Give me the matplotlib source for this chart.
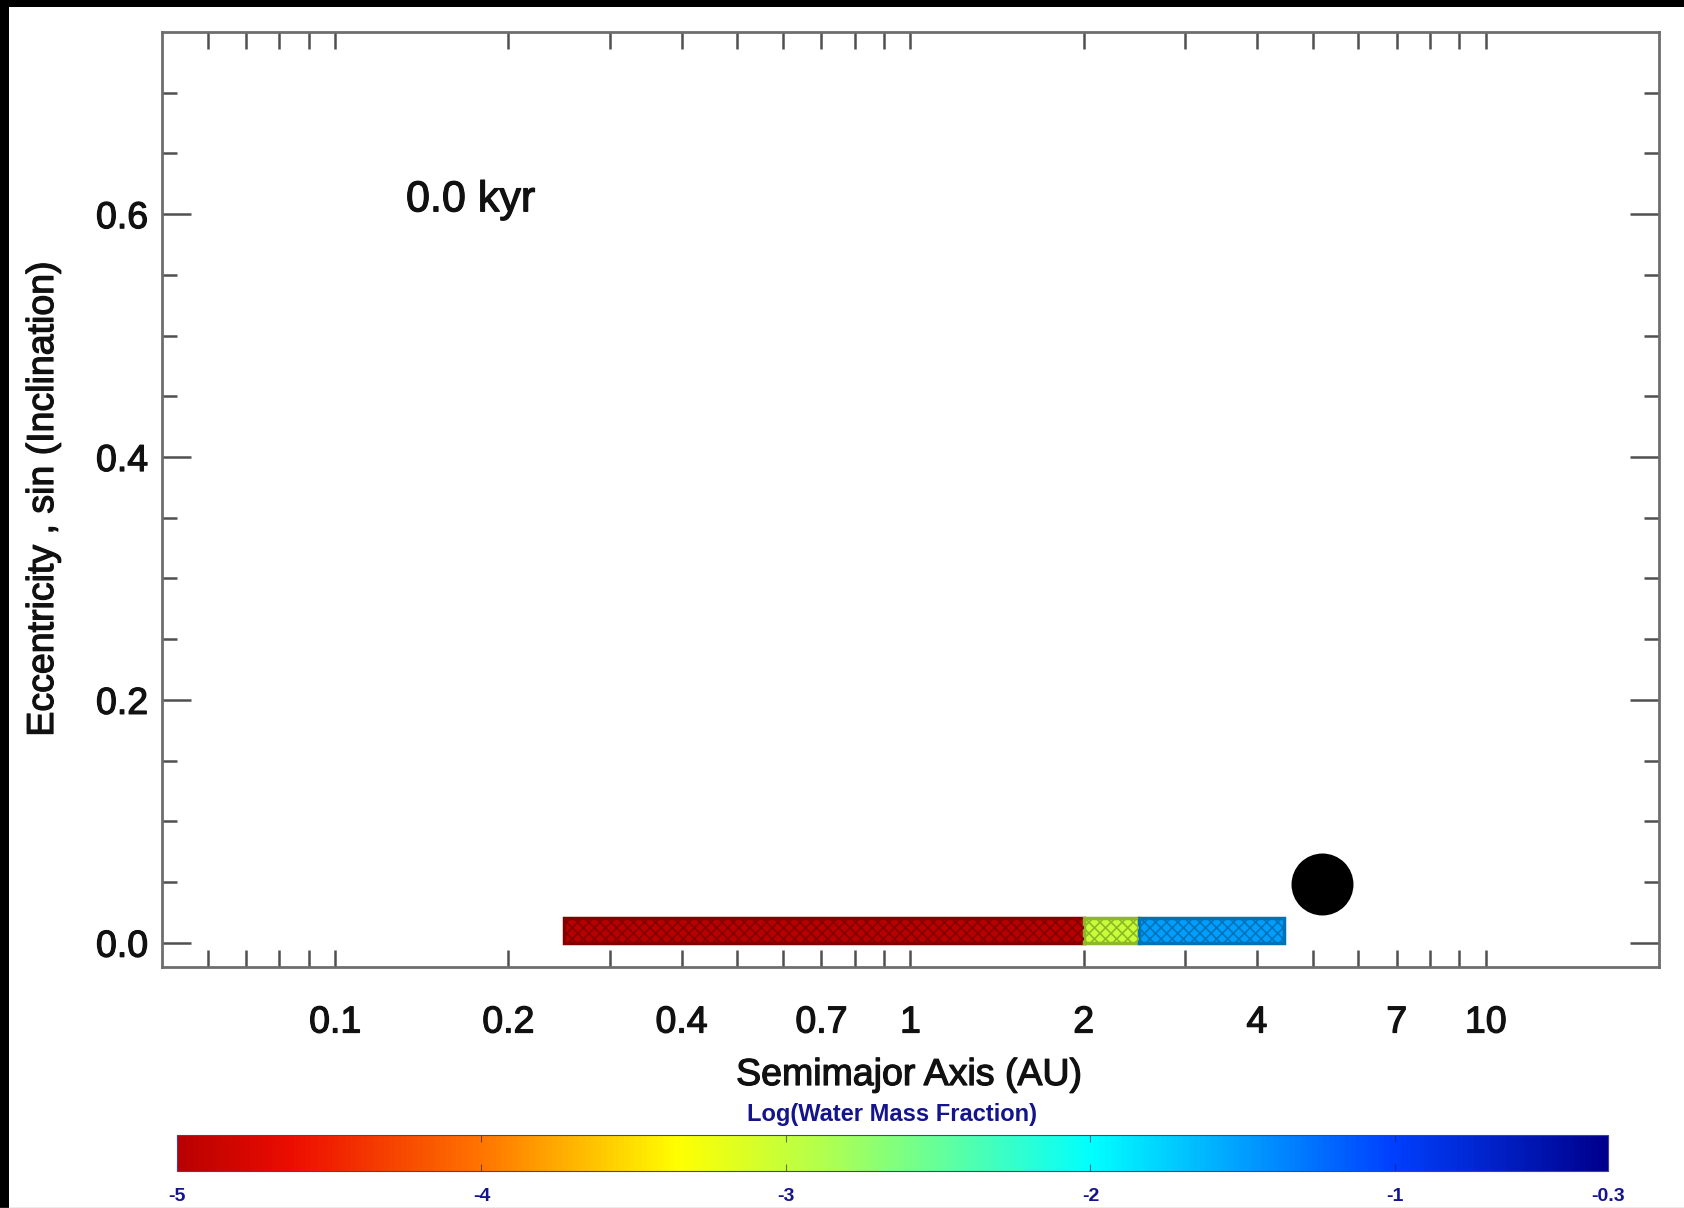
import matplotlib
matplotlib.use("Agg")
import matplotlib.pyplot as plt
import matplotlib.patheffects as pe
from matplotlib.patches import Rectangle
from matplotlib.lines import Line2D
from matplotlib.colors import Normalize, LinearSegmentedColormap
from matplotlib.cm import ScalarMappable
from matplotlib.ticker import FixedLocator, NullLocator

plt.rcParams['font.family'] = ['Liberation Sans', 'DejaVu Sans']
plt.rcParams['hatch.linewidth'] = 1.2

# ---------------- data ----------------
# planetesimal bands (semimajor axis range, eccentricity range, log water mass fraction)
band_a_inner = [0.25, 2.0, 2.5]
band_a_outer = [2.0, 2.5, 4.45]
band_e_min = [0.0, 0.0, 0.0]
band_e_max = [0.02, 0.02, 0.02]
band_logwater = [-5.0, -3.0, -1.5]

# Jupiter
jup_a = [5.2]
jup_e = [0.048]

time_label = "0.0 kyr"

x_tick_values = [0.06, 0.07, 0.08, 0.09, 0.1, 0.2, 0.3, 0.4, 0.5, 0.6, 0.7, 0.8, 0.9,
                 1, 2, 3, 4, 5, 6, 7, 8, 9, 10]
x_labeled = {0.1: "0.1", 0.2: "0.2", 0.4: "0.4", 0.7: "0.7", 1: "1", 2: "2",
             4: "4", 7: "7", 10: "10"}
y_major = [0.0, 0.2, 0.4, 0.6]
y_major_labels = ["0.0", "0.2", "0.4", "0.6"]
y_minor = [0.05, 0.1, 0.15, 0.25, 0.3, 0.35, 0.45, 0.5, 0.55, 0.65, 0.7]

cb_ticks = [-5, -4, -3, -2, -1, -0.3]
cb_tick_labels = ["-5", "-4", "-3", "-2", "-1", "-0.3"]
cb_range = (-5.0, -0.3)

# colour table (reversed rainbow as in the colour bar)
cmap_pos = [0.0, 0.08, 0.21, 0.35, 0.45, 0.64, 0.85, 1.0]
cmap_cols = [(0.72, 0.0, 0.0), (0.93, 0.05, 0.0), (1.0, 0.45, 0.0), (1.0, 1.0, 0.0),
             (0.7, 1.0, 0.3), (0.0, 1.0, 1.0), (0.0, 0.25, 1.0), (0.0, 0.0, 0.55)]

# ---------------- figure ----------------
W, H = 1684, 1208
fig = plt.figure(figsize=(W / 100, H / 100), dpi=100)
fig.patch.set_facecolor('white')

ax_l, ax_r, ax_t, ax_b = 162, 1659, 32, 967
ax = fig.add_axes([ax_l / W, 1 - ax_b / H, (ax_r - ax_l) / W, (ax_b - ax_t) / H])
ax.set_xscale('log')
ax.set_xlim(0.05, 20)
ax.set_ylim(-0.02, 0.75)

cmap = LinearSegmentedColormap.from_list('rainbow_r_idl', list(zip(cmap_pos, cmap_cols)))
norm = Normalize(*cb_range)

colors = [cmap(norm(v)) for v in band_logwater]
dark = [tuple(0.72 * c for c in col[:3]) for col in colors]
widths = [o - i for i, o in zip(band_a_inner, band_a_outer)]
heights = [t - b for b, t in zip(band_e_min, band_e_max)]
ax.bar(band_a_inner, heights, width=widths, bottom=band_e_min, align='edge',
       color=colors, edgecolor=dark, linewidth=2.5, zorder=3)
ax.bar(band_a_inner, heights, width=widths, bottom=band_e_min, align='edge',
       color='none', edgecolor=dark, linewidth=0, hatch='xxx', zorder=3.5)

ax.scatter(jup_a, jup_e, s=1990, c='black', zorder=4, linewidths=0)

# spines / ticks
spine_c = '#6e6e6e'
for s in ax.spines.values():
    s.set_color(spine_c)
    s.set_linewidth(2.0)

thick = [pe.withStroke(linewidth=0.9, foreground='#111111')]

ax.xaxis.set_major_locator(FixedLocator(x_tick_values))
ax.xaxis.set_minor_locator(NullLocator())
ax.set_xticklabels([x_labeled.get(v, "") for v in x_tick_values])
ax.tick_params(axis='x', which='major', direction='in', length=12, width=1.8,
               color='#505050', top=True, bottom=True, pad=27,
               labelsize=27, labelcolor='#111111')

ax.set_yticks(y_major)
ax.set_yticklabels(y_major_labels)
ax.set_yticks(y_minor, minor=True)
ax.tick_params(axis='y', which='major', direction='in', length=21, width=1.8,
               color='#505050', left=True, right=True, pad=10,
               labelsize=27, labelcolor='#111111')
ax.tick_params(axis='y', which='minor', direction='in', length=10.5, width=1.8,
               color='#505050', left=True, right=True)
for t in ax.get_xticklabels() + ax.get_yticklabels():
    t.set_path_effects(thick)

ax.text(0.163, 0.820, time_label, transform=ax.transAxes, ha='left', va='center',
        fontsize=31, color='#111111', path_effects=thick)

fig.text(909 / W, 1 - 1075 / H, "Semimajor Axis (AU)", ha='center', va='center',
         fontsize=27, color='#111111', path_effects=thick)
fig.text(43 / W, 1 - 499 / H, "Eccentricity , sin (Inclination)", ha='center',
         va='center', rotation=90, fontsize=27, color='#111111', path_effects=thick)

# ---------------- colorbar ----------------
cb_l, cb_r, cb_t, cb_b = 177, 1608, 1135, 1171
cax = fig.add_axes([cb_l / W, 1 - cb_b / H, (cb_r - cb_l) / W, (cb_b - cb_t) / H])
sm = ScalarMappable(norm=norm, cmap=cmap)
cb = fig.colorbar(sm, cax=cax, orientation='horizontal')
cb.set_ticks(cb_ticks)
cb.set_ticklabels(cb_tick_labels)
cb.outline.set_edgecolor('#4040a0')
cb.outline.set_linewidth(0.8)
cax.tick_params(axis='x', direction='in', length=5, width=0.8, color=(0.1, 0.1, 0.4, 0.6),
                top=True, bottom=True, pad=12, labelsize=14, labelcolor='#14148c')
for t in cax.get_xticklabels():
    t.set_fontweight('bold')
cax.minorticks_off()

fig.text(892 / W, 1 - 1114 / H, "Log(Water Mass Fraction)", ha='center', va='center',
         fontsize=17, fontweight='bold', color='#14148c')

# ---------------- black frame edges ----------------
fig.add_artist(Rectangle((0, 1 - 7 / H), 1, 7 / H, transform=fig.transFigure,
                         facecolor='black', edgecolor='none', zorder=10))
fig.add_artist(Rectangle((0, 0), 9 / W, 1, transform=fig.transFigure,
                         facecolor='black', edgecolor='none', zorder=10))
fig.add_artist(Line2D([0, 1], [0.5 / H, 0.5 / H], transform=fig.transFigure,
                      color='#a0a0a0', linewidth=1, zorder=10))

fig.savefig('out.png', dpi=100, facecolor='white')
